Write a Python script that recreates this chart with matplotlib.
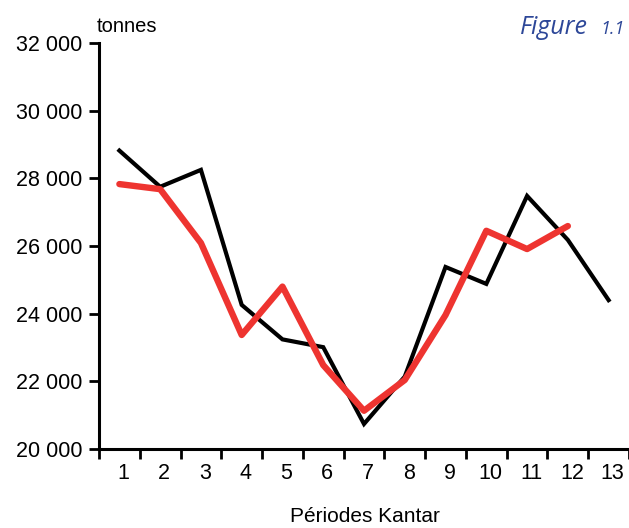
import matplotlib.pyplot as plt
from matplotlib import font_manager
import matplotlib.transforms as mtransforms

periods = list(range(1, 14))
black_vals = [28820, 27750, 28250, 24260, 23240, 23010, 20740, 22140, 25380, 24880, 27480, 26180, 24400]
red_vals = [27830, 27680, 26090, 23370, 24800, 22480, 21130, 22040, 23960, 26450, 25910, 26590]
yticks = [20000, 22000, 24000, 26000, 28000, 30000, 32000]
ytick_labels = ["20 000", "22 000", "24 000", "26 000", "28 000", "30 000", "32 000"]

names = {f.name for f in font_manager.fontManager.ttflist}
narrow = "Liberation Sans Narrow" if "Liberation Sans Narrow" in names else "Liberation Sans"
plt.rcParams['font.family'] = [narrow, 'DejaVu Sans']

fig = plt.figure(figsize=(6.29, 5.28), dpi=100)
ax = fig.add_axes([99/629, 1 - 449/528, 530/629, 406/528])

ax.plot(periods, black_vals, color="black", lw=3.0, solid_joinstyle="miter", zorder=2)
ax.plot(periods[:len(red_vals)], red_vals, color="#ee3430", lw=4.6, solid_capstyle="round", zorder=3)

ax.set_xlim(0.5, 13.5)
ax.set_ylim(20000, 32000)
for s in ["top", "right"]:
    ax.spines[s].set_visible(False)
for s in ["left", "bottom"]:
    ax.spines[s].set_linewidth(2.2)

ax.set_yticks(yticks)
ax.set_yticklabels(ytick_labels, fontsize=15.5)
ax.tick_params(axis="y", direction="out", length=7, width=2, pad=5)

# ticks on category boundaries, labels at centres
ax.set_xticks([p - 0.5 for p in periods] + [13.5])
ax.set_xticklabels([])
ax.tick_params(axis="x", which="major", direction="out", length=7, width=2)
ax.set_xticks(periods, minor=True)
ax.set_xticklabels([str(p) for p in periods], minor=True, fontsize=15.5)
ax.tick_params(axis="x", which="minor", length=0, pad=10)
shift = mtransforms.ScaledTranslation(4/100, 0, fig.dpi_scale_trans)
for lbl in ax.get_xticklabels(minor=True):
    lbl.set_transform(lbl.get_transform() + shift)

fig.text(365/629, 1 - 516/528, "Périodes Kantar", ha="center", va="center", fontsize=15)
fig.text(97/629, 1 - 26/528, "tonnes", ha="left", va="center", fontsize=14.5)
fig.text(588/629, 1 - 27/528, "Figure", ha="right", va="center", fontsize=18,
         style="italic", color="#2d4798", family=["Open Sans", "DejaVu Sans"])
fig.text(600/629, 1 - 29/528, "1.1", ha="left", va="center", fontsize=13,
         style="italic", color="#2d4798", family=["Open Sans", "DejaVu Sans"])

fig.savefig("out.png", dpi=100)
